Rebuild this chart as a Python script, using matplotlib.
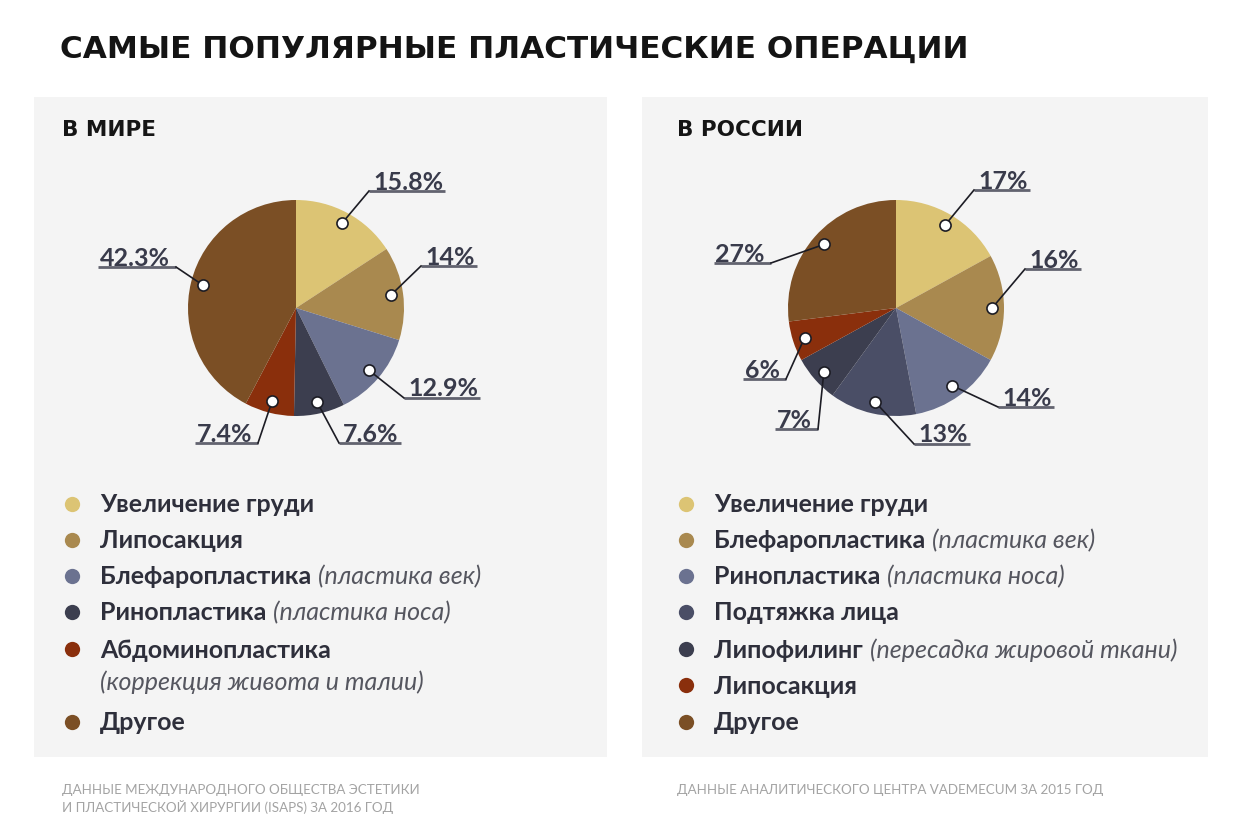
import matplotlib
matplotlib.use('Agg')
import matplotlib.pyplot as plt
from matplotlib.patches import Rectangle
import numpy as np

# ---------------- data ----------------
title = "САМЫЕ ПОПУЛЯРНЫЕ ПЛАСТИЧЕСКИЕ ОПЕРАЦИИ"

world_title = "В МИРЕ"
world_names = ["Увеличение груди", "Липосакция", "Блефаропластика",
               "Ринопластика", "Абдоминопластика", "Другое"]
world_notes = ["", "", "(пластика век)", "(пластика носа)",
               "(коррекция живота и талии)", ""]
world_values = [15.8, 14, 12.9, 7.6, 7.4, 42.3]
world_colors = ["#dcc474", "#a9894f", "#6b7290", "#3c3e4f", "#8a2f0c", "#7b4f25"]
world_source = "ДАННЫЕ МЕЖДУНАРОДНОГО ОБЩЕСТВА ЭСТЕТИКИ\nИ ПЛАСТИЧЕСКОЙ ХИРУРГИИ (ISAPS) ЗА 2016 ГОД"

russia_title = "В РОССИИ"
russia_names = ["Увеличение груди", "Блефаропластика", "Ринопластика",
                "Подтяжка лица", "Липофилинг", "Липосакция", "Другое"]
russia_notes = ["", "(пластика век)", "(пластика носа)", "",
                "(пересадка жировой ткани)", "", ""]
russia_values = [17, 16, 14, 13, 7, 6, 27]
russia_colors = ["#dcc474", "#a9894f", "#6b7290", "#4a4e66", "#3c3e4f", "#8a2f0c", "#7b4f25"]
russia_source = "ДАННЫЕ АНАЛИТИЧЕСКОГО ЦЕНТРА VADEMECUM ЗА 2015 ГОД"

# ---------------- layout ----------------
W, H = 1245, 837
FONT = ['Lato', 'DejaVu Sans']
WIDE = ['DejaVu Sans']
plt.rcParams['font.family'] = FONT

DARK = '#2e2f3b'
LABEL_C = '#393b4b'
NOTE_C = '#55565f'

fig = plt.figure(figsize=(W / 100, H / 100), dpi=100)
fig.patch.set_facecolor('white')
ax = fig.add_axes([0, 0, 1, 1])


def finish_axes():
    ax.set_xlim(0, W)
    ax.set_ylim(H, 0)
    ax.set_aspect('auto')
    ax.axis('off')


finish_axes()

panels = [dict(x=34, w=573, tx=62, names=world_names, notes=world_notes, values=world_values,
               colors=world_colors, title=world_title, source=world_source,
               center=(296, 309), legx=72, rows=[505, 541, 577, 613, 650, 723],
               labs=[(373, 182, 'L'), (425, 257, 'L'), (408, 389, 'L'),
                     (343, 434, 'L'), (252, 434, 'R'), (170, 258, 'R')]),
          dict(x=642, w=566, tx=677, names=russia_names, notes=russia_notes, values=russia_values,
               colors=russia_colors, title=russia_title, source=russia_source,
               center=(896, 309), legx=686, rows=[505, 541, 577, 613, 650, 686, 723],
               labs=[(978, 181, 'L'), (1029, 260, 'L'), (1002, 398, 'L'),
                     (918, 435, 'L'), (812, 420, 'R'), (780, 370, 'R'), (765, 254, 'R')])]

R = 108

ax.text(60, 49, title, fontsize=22.4, fontweight='bold', color='#141414',
        ha='left', va='center', family=WIDE)

texts_to_underline = []
notes_to_place = []

for p in panels:
    ax.add_patch(Rectangle((p['x'], 98), p['w'], 660, facecolor='#f4f4f4',
                           edgecolor='none', zorder=0))
    ax.text(p['tx'], 130, p['title'], fontsize=15.5, fontweight='bold',
            color='#151515', ha='left', va='center', family=WIDE)
    ax.text(p['tx'], 784, p['source'], fontsize=9.6, color='#a3a3a3',
            ha='left', va='top', linespacing=1.3)

    wedges, _ = ax.pie(p['values'], colors=p['colors'], startangle=-90,
                       counterclock=True, radius=R, center=p['center'],
                       frame=True, wedgeprops=dict(linewidth=0))
    finish_axes()

    cx, cy = p['center']
    for w, v, (lx, ly, side) in zip(wedges, p['values'], p['labs']):
        mid = np.deg2rad((w.theta1 + w.theta2) / 2)
        dx = cx + 0.89 * R * np.cos(mid)
        dy = cy + 0.89 * R * np.sin(mid)
        t = ax.text(lx, ly, f"{v:g}%", fontsize=18, fontweight='bold',
                    color=LABEL_C, ha='left' if side == 'L' else 'right',
                    va='center')
        texts_to_underline.append((t, side, ly, dx, dy))

    # legend
    for y, name, note, col in zip(p['rows'], p['names'], p['notes'], p['colors']):
        ax.plot([p['legx']], [y], 'o', ms=11, color=col, mec='none', zorder=3)
        t = ax.text(p['legx'] + 28, y, name, fontsize=18, fontweight='bold',
                    color=DARK, ha='left', va='center')
        if note:
            notes_to_place.append((t, note, y, p['legx'] + 28))

fig.canvas.draw()
inv = ax.transData.inverted()
rend = fig.canvas.get_renderer()

for t, side, ly, dx, dy in texts_to_underline:
    bb = t.get_window_extent(rend)
    (x0, _), (x1, _) = inv.transform([[bb.x0, bb.y0], [bb.x1, bb.y1]])
    uy = ly + 10
    if side == 'L':
        ux0, ux1 = x0 - 4, x1 + 2
        ex = ux0
    else:
        ux0, ux1 = x0 - 2, x1 + 6
        ex = ux1
    ax.plot([ux0, ux1], [uy, uy], color='#62636f', lw=2, solid_capstyle='butt', zorder=4)
    ax.plot([dx, ex], [dy, uy], color='#1c1c24', lw=1.2, zorder=4)
    ax.plot([dx], [dy], 'o', ms=8, mfc='white', mec='#1c1c24', mew=1.2, zorder=5)

for t, note, y, x in notes_to_place:
    if 'живота' in note:
        ax.text(x, y + 32, note, fontsize=18, fontstyle='italic',
                color=NOTE_C, ha='left', va='center')
    else:
        bb = t.get_window_extent(rend)
        (_, _), (x1, _) = inv.transform([[bb.x0, bb.y0], [bb.x1, bb.y1]])
        ax.text(x1 + 7, y, note, fontsize=18, fontstyle='italic',
                color=NOTE_C, ha='left', va='center')

finish_axes()
fig.savefig('out.png', dpi=100, facecolor='white')
